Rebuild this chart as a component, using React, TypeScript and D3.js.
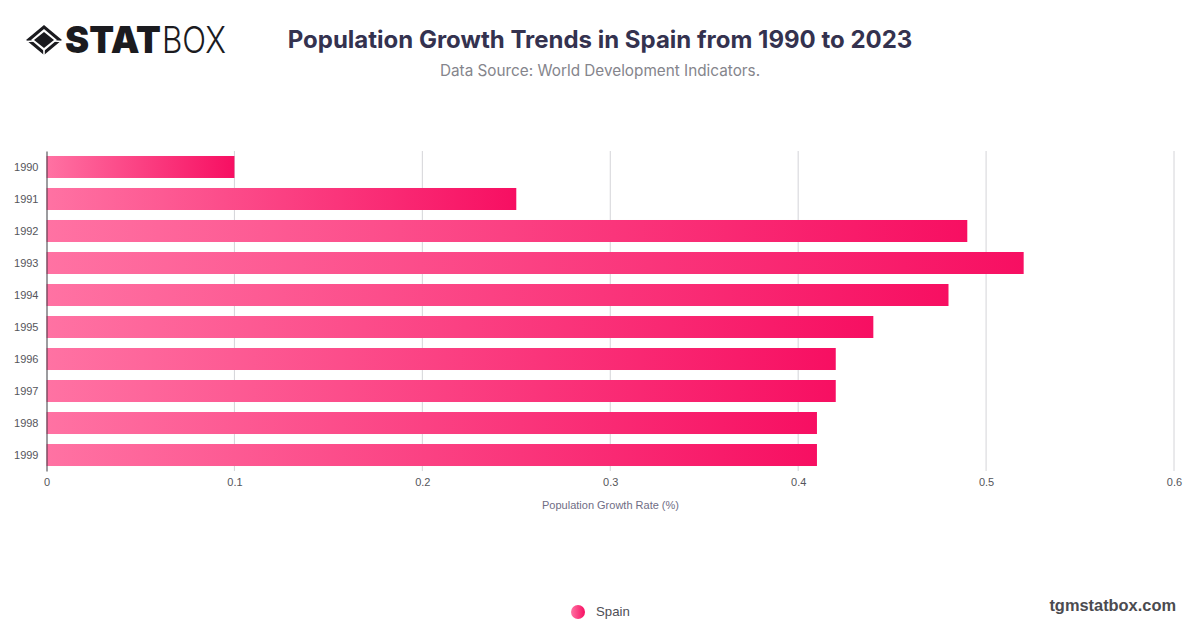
import { useEffect, useRef } from 'react';
import * as d3 from 'd3';

const years = ['1990', '1991', '1992', '1993', '1994', '1995', '1996', '1997', '1998', '1999'];
const growth = [0.1, 0.25, 0.49, 0.52, 0.48, 0.44, 0.42, 0.42, 0.41, 0.41];
const xTicks = [0, 0.1, 0.2, 0.3, 0.4, 0.5, 0.6];

const width = 1200;
const height = 628;
const margin = { top: 151, right: 26, bottom: 157, left: 46.5 };
const font = 'Inter, "Noto Sans", sans-serif';
const axisFont = '"Liberation Sans", Arial, sans-serif';

export default function App() {
  const chartRef = useRef<SVGGElement>(null);

  useEffect(() => {
    if (!chartRef.current) return;
    const svg = d3.select(chartRef.current);
    svg.selectAll('*').remove();

    const x = d3.scaleLinear().domain([0, 0.6]).range([margin.left, width - margin.right]);
    const y = d3.scaleBand<string>().domain(years).range([margin.top, height - margin.bottom]).paddingInner(0.3125).paddingOuter(0.156);

    const defs = svg.append('defs');
    const grad = defs.append('linearGradient').attr('id', 'barFill');
    grad.append('stop').attr('offset', '0%').attr('stop-color', '#ff72a3');
    grad.append('stop').attr('offset', '100%').attr('stop-color', '#f70f62');

    // Grid lines
    svg.append('g')
      .selectAll('line')
      .data(xTicks.slice(1))
      .enter()
      .append('line')
      .attr('x1', d => x(d))
      .attr('x2', d => x(d))
      .attr('y1', margin.top)
      .attr('y2', height - margin.bottom)
      .attr('stroke', '#d4d4d8')
      .attr('stroke-width', 1);

    // Bars
    svg.append('g')
      .selectAll('rect')
      .data(growth)
      .enter()
      .append('rect')
      .attr('x', x(0))
      .attr('y', (_, i) => y(years[i])!)
      .attr('width', d => x(d) - x(0))
      .attr('height', y.bandwidth())
      .attr('fill', 'url(#barFill)');

    // Axes
    const xAxis = svg.append('g')
      .attr('transform', `translate(0,${height - margin.bottom})`)
      .call(d3.axisBottom(x).tickValues(xTicks).tickSize(0).tickPadding(7).tickFormat(d => String(d)));
    xAxis.select('.domain').remove();
    xAxis.selectAll('text')
      .attr('fill', '#55555b')
      .style('font-family', axisFont)
      .style('font-size', '11px');

    const yAxis = svg.append('g')
      .attr('transform', `translate(${margin.left},0)`)
      .call(d3.axisLeft(y).tickSize(0).tickPadding(8));
    yAxis.select('.domain').attr('stroke', '#3a3a40').attr('stroke-width', 1);
    yAxis.selectAll('text')
      .attr('fill', '#55555b')
      .style('font-family', axisFont)
      .style('font-size', '11px');

    svg.append('text')
      .attr('x', 610.5)
      .attr('y', 509)
      .attr('text-anchor', 'middle')
      .attr('fill', '#6f6d85')
      .style('font-family', axisFont)
      .style('font-size', '11px')
      .text('Population Growth Rate (%)');
  }, []);

  return (
    <div style={{ position: 'absolute', left: 0, top: 0, width, height, background: '#fff' }}>
      <svg width={width} height={height} style={{ display: 'block', position: 'absolute', left: 0, top: 0 }}>
        <g ref={chartRef} />
        {/* Logo */}
        <g fill="#1b1b1f">
          <path d="M44 25 L62 40 L44 55 L26 40 Z M44 29 L57 40 L44 51 L31 40 Z" fillRule="evenodd" />
          <path d="M44 32 L54 40 L44 48 L34 40 Z" />
        </g>
        <path d="M26 41.5 L34 41 M62 41.5 L54 41 M44 48 L44 56" stroke="#fff" strokeWidth={1.6} fill="none" />
        <text x={65} y={53} fontFamily={font} fontWeight={900} fontSize={37} fill="#1b1b1f" textLength={96} lengthAdjust="spacingAndGlyphs">STAT</text>
        <text x={162} y={53} fontFamily={font} fontWeight={300} fontSize={37} fill="#1b1b1f" textLength={64} lengthAdjust="spacingAndGlyphs">BOX</text>
        {/* Heading */}
        <text x={600} y={47.5} textAnchor="middle" fontFamily={font} fontWeight={700} fontSize={24} fill="#34324f">Population Growth Trends in Spain from 1990 to 2023</text>
        <text x={600} y={76} textAnchor="middle" fontFamily={font} fontSize={15.3} fill="#85858c">Data Source: World Development Indicators.</text>
        {/* Legend */}
        <defs>
          <linearGradient id="legendFill">
            <stop offset="0%" stopColor="#ff72a3" />
            <stop offset="100%" stopColor="#f70f62" />
          </linearGradient>
        </defs>
        <circle cx={578} cy={612} r={7} fill="url(#legendFill)" />
        <text x={596} y={616} fontFamily={axisFont} fontSize={13.2} fill="#4e4e55">Spain</text>
        <text x={1176} y={611} textAnchor="end" fontFamily={axisFont} fontWeight={700} fontSize={16.4} fill="#4b4b50">tgmstatbox.com</text>
      </svg>
    </div>
  );
}
